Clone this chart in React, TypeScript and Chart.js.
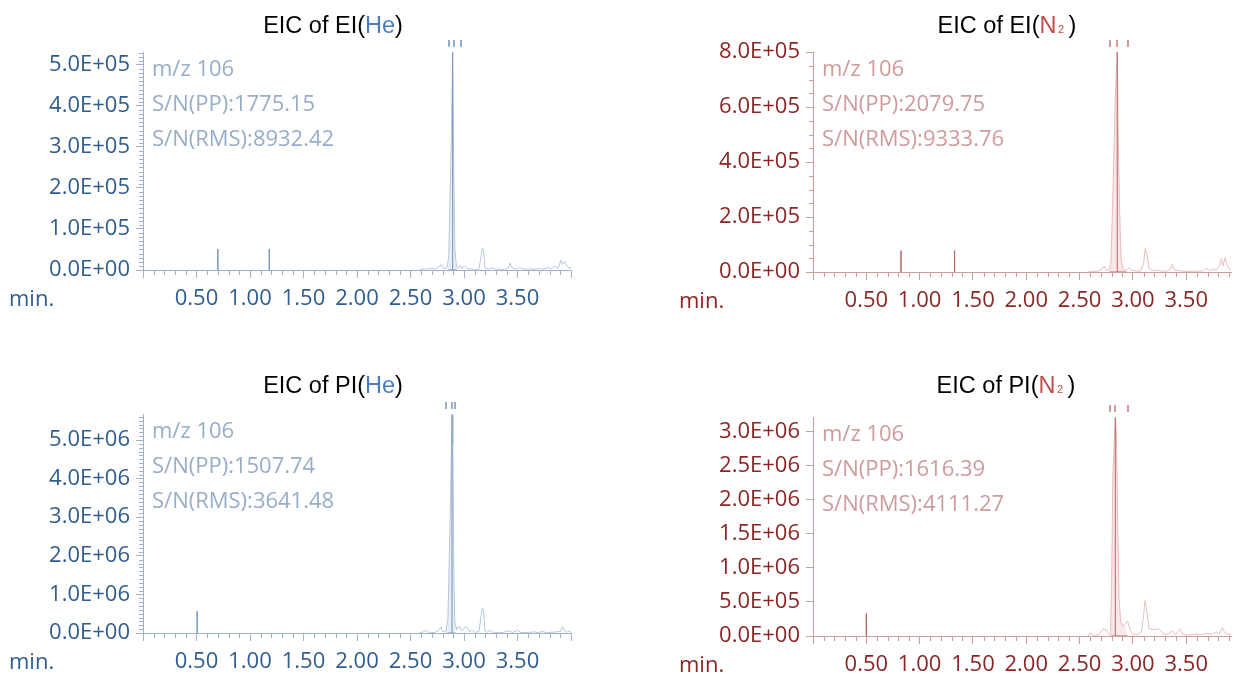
import React, { useEffect, useRef } from 'react';
import { Chart, registerables } from 'chart.js';

Chart.register(...registerables);

type Pt = [number, number];

// ---------------- data ----------------
const X_TICKS = [0, 0.5, 1.0, 1.5, 2.0, 2.5, 3.0, 3.5, 4.0];
const X_TICK_LABELS = ['', '0.50', '1.00', '1.50', '2.00', '2.50', '3.00', '3.50', ''];

// EIC of EI(He)
const EI_HE_Y_TICKS = [0, 100000, 200000, 300000, 400000, 500000];
const EI_HE_TRACE: Pt[] = [
  [2.58, 0], [2.63, 3000], [2.66, 2000], [2.70, 4500], [2.73, 2000], [2.77, 9000], [2.79, 13000],
  [2.81, 3000], [2.84, 5000], [2.857, 30000], [2.872, 210000], [2.880, 300000], [2.894, 531000],
  [2.905, 230000], [2.915, 50000], [2.93, 8000], [2.95, 5000], [2.965, 11000], [2.98, 3000],
  [3.005, 9000], [3.02, 7000], [3.04, 2000], [3.07, 3000], [3.10, 1000], [3.14, 2500], [3.16, 35000],
  [3.172, 54000], [3.185, 42000], [3.195, 5000], [3.23, 2000], [3.27, 5500], [3.30, 1500],
  [3.34, 2500], [3.38, 1000], [3.415, 5000], [3.43, 17000], [3.445, 6000], [3.48, 2000],
  [3.52, 6000], [3.55, 2000], [3.60, 2500], [3.66, 2000], [3.70, 3500], [3.74, 2000], [3.78, 6000],
  [3.81, 3000], [3.85, 9000], [3.88, 4000], [3.905, 24000], [3.92, 14000], [3.94, 21000],
  [3.96, 11000], [3.98, 5000], [4.0, 4000],
];
const EI_HE_SPIKES: Pt[] = [[0.70, 51000], [1.18, 51000]];
const EI_HE_APEX: Pt = [2.894, 531000];
const EI_HE_BOUNDS = [2.85, 2.935];
const EI_HE_MARKS = [2.857, 2.91, 2.969];
const EI_HE_INFO = ['m/z 106', 'S/N(PP):1775.15', 'S/N(RMS):8932.42'];

// EIC of EI(N2)
const EI_N2_Y_TICKS = [0, 200000, 400000, 600000, 800000];
const EI_N2_TRACE: Pt[] = [
  [2.58, 0], [2.62, 3000], [2.66, 2000], [2.70, 7000], [2.73, 22000], [2.755, 5000], [2.78, 9000],
  [2.795, 40000], [2.81, 250000], [2.818, 366000], [2.835, 640000], [2.853, 800000], [2.865, 420000],
  [2.875, 230000], [2.89, 40000], [2.91, 10000], [2.94, 6000], [2.97, 16000], [2.99, 6000],
  [3.03, 4000], [3.07, 3000], [3.10, 30000], [3.115, 85000], [3.135, 60000], [3.15, 15000],
  [3.18, 5000], [3.22, 6000], [3.27, 3000], [3.32, 4000], [3.35, 9000], [3.37, 28000], [3.39, 6000],
  [3.43, 5000], [3.47, 3000], [3.52, 2000], [3.57, 2500], [3.62, 3000], [3.66, 4000], [3.69, 13000],
  [3.72, 5000], [3.75, 11000], [3.78, 7000], [3.81, 20000], [3.83, 48000], [3.845, 22000],
  [3.865, 52000], [3.885, 24000], [3.90, 12000], [3.92, 9000],
];
const EI_N2_SPIKES: Pt[] = [[0.825, 78000], [1.328, 78000]];
const EI_N2_APEX: Pt = [2.853, 800000];
const EI_N2_BOUNDS = [2.78, 2.94];
const EI_N2_MARKS = [2.781, 2.85, 2.953];
const EI_N2_INFO = ['m/z 106', 'S/N(PP):2079.75', 'S/N(RMS):9333.76'];

// EIC of PI(He)
const PI_HE_Y_TICKS = [0, 1000000, 2000000, 3000000, 4000000, 5000000];
const PI_HE_TRACE: Pt[] = [
  [2.58, 0], [2.62, 30000], [2.645, 70000], [2.67, 20000], [2.72, 10000], [2.76, 60000],
  [2.785, 160000], [2.80, 40000], [2.83, 30000], [2.85, 400000], [2.87, 2900000], [2.888, 5660000],
  [2.897, 4900000], [2.905, 1500000], [2.915, 300000], [2.93, 80000], [2.955, 180000], [2.97, 90000],
  [2.985, 60000], [3.01, 160000], [3.03, 140000], [3.05, 40000], [3.08, 70000], [3.10, 20000],
  [3.14, 30000], [3.16, 450000], [3.172, 650000], [3.185, 520000], [3.195, 60000], [3.22, 20000],
  [3.24, 70000], [3.27, 20000], [3.33, 10000], [3.37, 20000], [3.42, 60000], [3.45, 10000],
  [3.50, 70000], [3.53, 15000], [3.60, 10000], [3.65, 30000], [3.70, 10000], [3.73, 40000],
  [3.77, 10000], [3.83, 20000], [3.87, 30000], [3.90, 40000], [3.92, 170000], [3.935, 80000],
  [3.96, 20000], [3.98, 50000], [4.0, 10000],
];
const PI_HE_SPIKES: Pt[] = [[0.506, 570000]];
const PI_HE_APEX: Pt = [2.888, 5660000];
const PI_HE_BOUNDS = [2.84, 2.92];
const PI_HE_MARKS = [2.832, 2.888, 2.919];
const PI_HE_INFO = ['m/z 106', 'S/N(PP):1507.74', 'S/N(RMS):3641.48'];

// EIC of PI(N2)
const PI_N2_Y_TICKS = [0, 500000, 1000000, 1500000, 2000000, 2500000, 3000000];
const PI_N2_TRACE: Pt[] = [
  [2.58, 0], [2.60, 45000], [2.63, 10000], [2.68, 20000], [2.72, 100000], [2.75, 95000],
  [2.775, 20000], [2.79, 30000], [2.80, 700000], [2.812, 2400000], [2.835, 3210000],
  [2.845, 3000000], [2.858, 1650000], [2.87, 560000], [2.885, 220000], [2.90, 150000],
  [2.925, 170000], [2.95, 220000], [2.975, 80000], [3.00, 30000], [3.04, 20000], [3.08, 60000],
  [3.10, 300000], [3.115, 520000], [3.13, 370000], [3.15, 110000], [3.18, 100000], [3.21, 90000],
  [3.24, 110000], [3.27, 60000], [3.30, 20000], [3.34, 40000], [3.37, 80000], [3.40, 20000],
  [3.44, 100000], [3.47, 20000], [3.52, 15000], [3.58, 30000], [3.64, 20000], [3.70, 40000],
  [3.74, 25000], [3.78, 60000], [3.81, 30000], [3.84, 120000], [3.86, 50000], [3.90, 20000],
  [3.92, 30000],
];
const PI_N2_SPIKES: Pt[] = [[0.50, 330000]];
const PI_N2_APEX: Pt = [2.835, 3210000];
const PI_N2_BOUNDS = [2.79, 2.95];
const PI_N2_MARKS = [2.788, 2.835, 2.953];
const PI_N2_INFO = ['m/z 106', 'S/N(PP):1616.39', 'S/N(RMS):4111.27'];

// ---------------- styles ----------------
const BLUE = {
  tick: '#2f5d8f', axis: '#9fb2ca', info: '#98adc8', light: '#b8c7db', dark: '#7392ba',
  fill: '#e8eef5', accent: '#4a7dbf',
};
const RED = {
  tick: '#8b2626', axis: '#cc9d9d', info: '#cf9b9b', light: '#e8bcbc', dark: '#b66464',
  fill: '#f9e8e8', accent: '#c0504d',
};

type TitlePart = { text: string; color?: string; small?: boolean };

interface PanelCfg {
  left: number; top: number; w: number; h: number;
  L: number; R: number; T: number; B: number;
  xMax: number; yMax: number; yTicks: number[]; yMinor: number;
  trace: Pt[]; spikes: Pt[]; apex: Pt; bounds: number[]; marks: number[]; info: string[];
  c: typeof BLUE;
  title: TitlePart[]; titleX: number; titleY: number;
}

const TICK_FONT = { family: '"Open Sans", "Noto Sans", sans-serif', size: 22 };
const INFO_FONT = '22px "Open Sans", "Noto Sans", sans-serif';
const TITLE_FONT = '23.5px "Liberation Sans", Arial, sans-serif';
const TITLE_SMALL_FONT = '11px "Liberation Sans", Arial, sans-serif';

const PANELS: PanelCfg[] = [
  {
    left: 0, top: 0, w: 617, h: 337, L: 143, R: 571, T: 52, B: 270,
    xMax: 4.0, yMax: 531700, yTicks: EI_HE_Y_TICKS, yMinor: 10000,
    trace: EI_HE_TRACE, spikes: EI_HE_SPIKES, apex: EI_HE_APEX, bounds: EI_HE_BOUNDS,
    marks: EI_HE_MARKS, info: EI_HE_INFO, c: BLUE,
    title: [{ text: 'EIC of EI(' }, { text: 'He', color: BLUE.accent }, { text: ')' }],
    titleX: 333, titleY: 33,
  },
  {
    left: 617, top: 0, w: 617, h: 337, L: 196, R: 614, T: 52, B: 272,
    xMax: 3.92, yMax: 800000, yTicks: EI_N2_Y_TICKS, yMinor: 50000,
    trace: EI_N2_TRACE, spikes: EI_N2_SPIKES, apex: EI_N2_APEX, bounds: EI_N2_BOUNDS,
    marks: EI_N2_MARKS, info: EI_N2_INFO, c: RED,
    title: [{ text: 'EIC of EI(' }, { text: 'N', color: RED.accent }, { text: '2', color: RED.accent, small: true }, { text: ')' }],
    titleX: 390, titleY: 33,
  },
  {
    left: 0, top: 337, w: 617, h: 338, L: 143, R: 571, T: 77, B: 296,
    xMax: 4.0, yMax: 5674000, yTicks: PI_HE_Y_TICKS, yMinor: 100000,
    trace: PI_HE_TRACE, spikes: PI_HE_SPIKES, apex: PI_HE_APEX, bounds: PI_HE_BOUNDS,
    marks: PI_HE_MARKS, info: PI_HE_INFO, c: BLUE,
    title: [{ text: 'EIC of PI(' }, { text: 'He', color: BLUE.accent }, { text: ')' }],
    titleX: 333, titleY: 56,
  },
  {
    left: 617, top: 337, w: 617, h: 338, L: 196, R: 614, T: 80, B: 299,
    xMax: 3.92, yMax: 3216000, yTicks: PI_N2_Y_TICKS, yMinor: 0,
    trace: PI_N2_TRACE, spikes: PI_N2_SPIKES, apex: PI_N2_APEX, bounds: PI_N2_BOUNDS,
    marks: PI_N2_MARKS, info: PI_N2_INFO, c: RED,
    title: [{ text: 'EIC of PI(' }, { text: 'N', color: RED.accent }, { text: '2', color: RED.accent, small: true }, { text: ')' }],
    titleX: 389, titleY: 56,
  },
];

function fmtSci(v: number): string {
  if (v === 0) return '0.0E+00';
  const [m, e] = v.toExponential(1).split('e');
  const sign = e[0] === '-' ? '-' : '+';
  const d = e.replace(/[+-]/, '').padStart(2, '0');
  return `${m}E${sign}${d}`;
}

function buildChart(canvas: HTMLCanvasElement, p: PanelCfg) {
  const c = p.c;
  const dark: any[] = [];
  for (const [t, hgt] of p.spikes) {
    dark.push({ x: t, y: 0 }, { x: t, y: hgt }, { x: t, y: 0 }, { x: t, y: null });
  }
  dark.push({ x: p.apex[0], y: 0 }, { x: p.apex[0], y: p.apex[1] }, { x: p.apex[0], y: null });
  dark.push({ x: p.bounds[0], y: 0 }, { x: p.bounds[1], y: 0 });

  const trace = p.trace.map(([x, y]) => ({ x, y }));
  const fillData = [
    { x: p.bounds[0], y: 0 },
    ...p.trace.filter(([x]) => x > p.bounds[0] && x < p.bounds[1]).map(([x, y]) => ({ x, y })),
    { x: p.bounds[1], y: 0 },
  ];

  const decor = {
    id: 'decor' + p.left + '_' + p.top,
    afterDraw(chart: any) {
      const { ctx, chartArea: a } = chart;
      const xs = chart.scales.x;
      const ys = chart.scales.y;
      ctx.save();
      // minor ticks
      ctx.strokeStyle = c.axis;
      ctx.lineWidth = 1;
      ctx.beginPath();
      for (let i = 1; i * 0.1 <= p.xMax + 1e-6; i++) {
        if (i % 5 === 0) continue;
        const px = Math.round(xs.getPixelForValue(i * 0.1)) + 0.5;
        ctx.moveTo(px, a.bottom);
        ctx.lineTo(px, a.bottom + 5);
      }
      if (p.yMinor > 0) {
        const major = p.yTicks[1] - p.yTicks[0];
        const ratio = Math.round(major / p.yMinor);
        for (let i = 1; i * p.yMinor <= p.yMax + 1e-6; i++) {
          if (i % ratio === 0) continue;
          const py = Math.round(ys.getPixelForValue(i * p.yMinor)) + 0.5;
          ctx.moveTo(a.left - 4, py);
          ctx.lineTo(a.left, py);
        }
      }
      ctx.stroke();

      // peak markers
      ctx.strokeStyle = c.info;
      ctx.lineWidth = 2;
      ctx.beginPath();
      for (const m of p.marks) {
        const px = Math.round(xs.getPixelForValue(m));
        ctx.moveTo(px, a.top - 12);
        ctx.lineTo(px, a.top - 5);
      }
      ctx.stroke();

      // info text
      ctx.font = INFO_FONT;
      ctx.fillStyle = c.info;
      ctx.textAlign = 'left';
      ctx.textBaseline = 'middle';
      p.info.forEach((s, i) => ctx.fillText(s, a.left + 9, a.top + 18 + i * 35));

      // axis unit
      ctx.font = `${TICK_FONT.size}px ${TICK_FONT.family}`;
      ctx.fillStyle = c.tick;
      ctx.fillText('min.', a.left - 134, a.bottom + 30);

      // title
      let total = 0;
      const widths = p.title.map((part) => {
        ctx.font = part.small ? TITLE_SMALL_FONT : TITLE_FONT;
        const w = ctx.measureText(part.text).width + (part.small ? 6 : 0);
        total += w;
        return w;
      });
      let x = p.titleX - total / 2;
      ctx.textBaseline = 'alphabetic';
      p.title.forEach((part, i) => {
        ctx.font = part.small ? TITLE_SMALL_FONT : TITLE_FONT;
        ctx.fillStyle = part.color || '#000000';
        ctx.fillText(part.text, x + (part.small ? 1.5 : 0), p.titleY);
        x += widths[i];
      });
      ctx.restore();
    },
  };

  return new Chart(canvas, {
    type: 'line',
    data: {
      datasets: [
        { data: dark, borderColor: c.dark, borderWidth: 1, pointRadius: 0, fill: false, spanGaps: false, tension: 0 },
        { data: trace, borderColor: c.light, borderWidth: 1, pointRadius: 0, fill: false, tension: 0 },
        { data: fillData, borderColor: 'rgba(0,0,0,0)', borderWidth: 0, backgroundColor: c.fill, fill: 'origin', pointRadius: 0, tension: 0 },
      ] as any,
    },
    options: {
      responsive: false,
      animation: false,
      events: [],
      layout: { padding: { left: 0, top: p.T, right: p.w - p.R, bottom: 0 } },
      plugins: { legend: { display: false }, tooltip: { enabled: false }, title: { display: false } },
      scales: {
        x: {
          type: 'linear',
          min: 0,
          max: p.xMax,
          afterBuildTicks: (s: any) => {
            s.ticks = X_TICKS.filter((v) => v <= p.xMax + 1e-9).map((v) => ({ value: v }));
          },
          afterFit: (s: any) => { s.height = p.h - p.B; },
          ticks: {
            autoSkip: false,
            maxRotation: 0,
            padding: 8,
            color: c.tick,
            font: TICK_FONT,
            callback: (v: any) => {
              const i = X_TICKS.findIndex((t) => Math.abs(t - Number(v)) < 1e-9);
              return i >= 0 ? X_TICK_LABELS[i] : '';
            },
          },
          grid: { display: true, drawOnChartArea: false, drawTicks: true, tickLength: 8, tickColor: c.axis, tickWidth: 1 },
          border: { display: true, color: c.axis, width: 1 },
        },
        y: {
          type: 'linear',
          min: 0,
          max: p.yMax,
          afterBuildTicks: (s: any) => {
            s.ticks = p.yTicks.map((v) => ({ value: v }));
          },
          afterFit: (s: any) => { s.width = p.L; },
          ticks: {
            autoSkip: false,
            padding: 6,
            color: c.tick,
            font: TICK_FONT,
            callback: (v: any) => fmtSci(Number(v)),
          },
          grid: { display: true, drawOnChartArea: false, drawTicks: true, tickLength: 7, tickColor: c.axis, tickWidth: 1 },
          border: { display: true, color: c.axis, width: 1 },
        },
      },
    } as any,
    plugins: [decor],
  });
}

function Panel({ p }: { p: PanelCfg }) {
  const ref = useRef<HTMLCanvasElement>(null);
  useEffect(() => {
    const canvas = ref.current;
    if (!canvas) return;
    const chart = buildChart(canvas, p);
    let alive = true;
    if ((document as any).fonts && (document as any).fonts.load) {
      Promise.all([
        (document as any).fonts.load('22px "Open Sans"'),
        (document as any).fonts.load('23px "Liberation Sans"'),
      ]).then(() => { if (alive) chart.update(); }).catch(() => {});
    }
    return () => { alive = false; chart.destroy(); };
  }, [p]);
  return (
    <div style={{ position: 'absolute', left: p.left, top: p.top, width: p.w, height: p.h }}>
      <canvas ref={ref} width={p.w} height={p.h} style={{ display: 'block', width: p.w, height: p.h }} />
    </div>
  );
}

export default function App() {
  return (
    <div style={{ position: 'fixed', left: 0, top: 0, width: 1234, height: 675, background: '#ffffff', overflow: 'hidden' }}>
      {PANELS.map((p, i) => <Panel key={i} p={p} />)}
    </div>
  );
}
